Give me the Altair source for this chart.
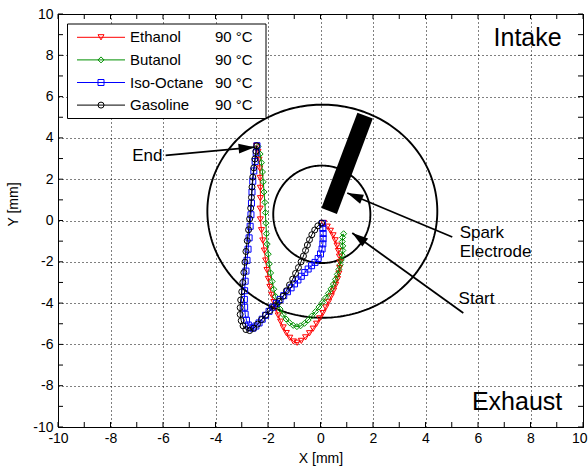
import math
import altair as alt
import numpy as np
import pandas as pd

FONT = "Liberation Sans"
W, H = 525, 413

# ---------------- data ----------------
fuel_names = ["Ethanol", "Butanol", "Iso-Octane", "Gasoline"]
fuel_temps = ["90 °C", "90 °C", "90 °C", "90 °C"]
fuel_colors = ["#ff0000", "#009000", "#0000ff", "#000000"]
fuel_shapes = ["triangle-down", "diamond", "square", "circle"]

ethanol_path = [
    (0.12, -0.12), (0.26, -0.30), (0.38, -0.50), (0.48, -0.72), (0.56, -0.96),
    (0.63, -1.22), (0.68, -1.48), (0.72, -1.75), (0.74, -2.02), (0.73, -2.30),
    (0.70, -2.57), (0.65, -2.84), (0.58, -3.12), (0.50, -3.40), (0.41, -3.67),
    (0.31, -3.94), (0.20, -4.21), (0.09, -4.48), (-0.03, -4.74), (-0.15, -5.00),
    (-0.28, -5.24), (-0.42, -5.46), (-0.57, -5.66), (-0.73, -5.83), (-0.89, -5.92),
    (-1.03, -5.86), (-1.17, -5.68), (-1.30, -5.45), (-1.42, -5.18), (-1.52, -4.90),
    (-1.61, -4.60), (-1.70, -4.28), (-1.78, -3.95), (-1.86, -3.60), (-1.93, -3.22),
    (-1.99, -2.83), (-2.04, -2.40), (-2.09, -1.94), (-2.14, -1.46), (-2.20, -0.97),
    (-2.25, -0.47), (-2.29, 0.05), (-2.30, 0.57), (-2.29, 1.08), (-2.29, 1.58),
    (-2.30, 2.06), (-2.31, 2.52), (-2.34, 2.94), (-2.38, 3.32), (-2.44, 3.62),
]
butanol_path = [
    (0.88, -0.64), (0.84, -0.82), (0.83, -1.02), (0.85, -1.23), (0.85, -1.45),
    (0.83, -1.68), (0.79, -1.91), (0.75, -2.14), (0.70, -2.37), (0.64, -2.61),
    (0.57, -2.85), (0.49, -3.08), (0.40, -3.31), (0.30, -3.53), (0.19, -3.75),
    (0.07, -3.97), (-0.06, -4.19), (-0.19, -4.41), (-0.33, -4.62), (-0.47, -4.82),
    (-0.61, -4.98), (-0.76, -5.10), (-0.90, -5.14), (-1.04, -5.08), (-1.18, -4.95),
    (-1.31, -4.77), (-1.43, -4.55), (-1.54, -4.29), (-1.63, -4.00), (-1.71, -3.68),
    (-1.78, -3.33), (-1.84, -2.95), (-1.90, -2.54), (-1.95, -2.10), (-1.99, -1.63),
    (-2.03, -1.14), (-2.06, -0.64), (-2.08, -0.13), (-2.10, 0.38), (-2.12, 0.88),
    (-2.15, 1.38), (-2.18, 1.87), (-2.21, 2.35), (-2.25, 2.80), (-2.30, 3.22),
    (-2.38, 3.58),
]
iso_octane_path = [
    (0.08, -0.14), (0.09, -0.38), (0.10, -0.63), (0.10, -0.88), (0.09, -1.13),
    (0.06, -1.38), (0.00, -1.62), (-0.09, -1.84), (-0.21, -2.03), (-0.34, -2.19),
    (-0.47, -2.35), (-0.60, -2.52), (-0.73, -2.70), (-0.86, -2.88), (-0.99, -3.07),
    (-1.12, -3.26), (-1.26, -3.45), (-1.40, -3.64), (-1.54, -3.83), (-1.68, -4.01),
    (-1.82, -4.20), (-1.96, -4.40), (-2.09, -4.59), (-2.22, -4.78), (-2.34, -4.96),
    (-2.46, -5.11), (-2.57, -5.21), (-2.67, -5.20), (-2.75, -5.06), (-2.82, -4.83),
    (-2.87, -4.54), (-2.89, -4.20), (-2.90, -3.82), (-2.89, -3.40), (-2.87, -2.94),
    (-2.84, -2.45), (-2.80, -1.93), (-2.76, -1.39), (-2.72, -0.84), (-2.68, -0.28),
    (-2.65, 0.28), (-2.63, 0.84), (-2.61, 1.38), (-2.58, 1.90), (-2.54, 2.40),
    (-2.49, 2.86), (-2.45, 3.28), (-2.42, 3.62),
]
gasoline_path = [
    (0.04, -0.12), (-0.10, -0.26), (-0.22, -0.46), (-0.33, -0.69), (-0.42, -0.93),
    (-0.50, -1.19), (-0.57, -1.45), (-0.65, -1.72), (-0.74, -2.00), (-0.84, -2.28),
    (-0.95, -2.56), (-1.06, -2.84), (-1.18, -3.12), (-1.30, -3.40), (-1.43, -3.67),
    (-1.58, -3.92), (-1.75, -4.14), (-1.92, -4.36), (-2.09, -4.58), (-2.25, -4.80),
    (-2.40, -5.02), (-2.55, -5.22), (-2.70, -5.33), (-2.84, -5.28), (-2.95, -5.10),
    (-3.02, -4.85), (-3.06, -4.55), (-3.06, -4.22), (-3.04, -3.85), (-3.00, -3.45),
    (-2.96, -3.00), (-2.92, -2.52), (-2.88, -2.02), (-2.84, -1.50), (-2.79, -0.98),
    (-2.74, -0.45), (-2.70, 0.08), (-2.66, 0.60), (-2.63, 1.12), (-2.61, 1.62),
    (-2.58, 2.10), (-2.54, 2.55), (-2.50, 2.98), (-2.46, 3.35), (-2.43, 3.62),
]
fuel_paths = [ethanol_path, butanol_path, iso_octane_path, gasoline_path]

# annotation geometry (data units)
ring_center_x = [0.07, 0.05]
ring_center_y = [0.45, 0.30]
ring_radius_x = [4.38, 1.85]
ring_radius_y = [5.16, 2.36]
electrode_x = [0.33, 1.70]
electrode_y = [0.46, 5.08]
arrow_tail_x = [-5.90, 5.02, 5.44]
arrow_tail_y = [3.15, -0.80, -4.48]
arrow_tip_x = [-2.51, 1.02, 1.21]
arrow_tip_y = [3.55, 1.33, -0.61]
note_texts = ["End", "Spark", "Electrode", "Start", "Intake", "Exhaust"]
note_x = [-6.02, 5.30, 5.30, 5.26, 7.89, 7.49]
note_y = [3.10, -0.85, -1.77, -4.03, 8.46, -9.17]

# ---------------- styles ----------------
note_align = ["right", "left", "left", "left", "center", "center"]
note_baseline = ["middle", "alphabetic", "alphabetic", "alphabetic", "alphabetic", "alphabetic"]
note_size = [17, 17, 17, 17, 25, 25]

xscale = alt.Scale(domain=[-10, 10], nice=False, zero=False)
yscale = alt.Scale(domain=[-10, 10], nice=False, zero=False)
common_axis = dict(
    values=list(range(-10, 11, 2)), grid=True, gridDash=[1, 3], gridColor="#000000",
    gridWidth=1, gridOpacity=1, domain=False, ticks=False, tickSize=0,
    labelFont=FONT, labelFontSize=14, labelColor="#000000", labelFlush=False,
    labelOverlap=False, labelExpr="'' + datum.value",
    titleFont=FONT, titleFontSize=14, titleFontWeight="normal", titleColor="#000000",
)
X = alt.X("x:Q", scale=xscale, axis=alt.Axis(
    title="X [mm]", labelPadding=4,
    labelAlign={"condition": {"test": "datum.value == 10", "value": "right"}, "value": "center"},
    labelOffset={"condition": {"test": "datum.value == 10", "value": 4}, "value": 0},
    titleX=W / 2, titleY=31, titleAlign="center", titleBaseline="middle", **common_axis))
Y = alt.Y("y:Q", scale=yscale, axis=alt.Axis(title="Y [mm]", labelPadding=5,
          titleX=-45, titleY=190, titleAngle=270, titleAlign="center",
          titleBaseline="middle", **common_axis))

layers = []

# inward ticks on all four sides
tick_df = pd.DataFrame({"x": list(range(-10, 11)), "y": list(range(-10, 11))})
layers.append(alt.Chart(tick_df).mark_rule(color="black", strokeWidth=1).encode(
    x=X, y=alt.value(H), y2=alt.value(H - 5)))
layers.append(alt.Chart(tick_df).mark_rule(color="black", strokeWidth=1).encode(
    x=X, y=alt.value(0), y2=alt.value(5)))
layers.append(alt.Chart(tick_df).mark_rule(color="black", strokeWidth=1).encode(
    y=Y, x=alt.value(0), x2=alt.value(5)))
layers.append(alt.Chart(tick_df).mark_rule(color="black", strokeWidth=1).encode(
    y=Y, x=alt.value(W), x2=alt.value(W - 5)))

# rings
theta = np.linspace(0, 2 * np.pi, 241)
ring_rows = []
for k in range(len(ring_center_x)):
    for j, t in enumerate(theta):
        ring_rows.append({"ring": k, "j": j,
                          "x": ring_center_x[k] + ring_radius_x[k] * math.cos(t),
                          "y": ring_center_y[k] + ring_radius_y[k] * math.sin(t)})
ring_df = pd.DataFrame(ring_rows)
layers.append(alt.Chart(ring_df).mark_line(color="black", strokeWidth=1.9).encode(
    x=X, y=Y, detail="ring:N", order="j:Q"))

# electrode
el_df = pd.DataFrame({"x": electrode_x, "y": electrode_y, "j": [0, 1]})
layers.append(alt.Chart(el_df).mark_line(color="black", strokeWidth=16.5, strokeCap="butt").encode(
    x=X, y=Y, order="j:Q"))

# fuel series
for name, pts, col, shp in zip(fuel_names, fuel_paths, fuel_colors, fuel_shapes):
    df = pd.DataFrame({"i": range(len(pts)), "x": [p[0] for p in pts], "y": [p[1] for p in pts]})
    layers.append(alt.Chart(df).mark_line(color=col, strokeWidth=1).encode(x=X, y=Y, order="i:Q"))
    layers.append(alt.Chart(df).mark_point(shape=shp, color=col, filled=False, size=36,
                                           strokeWidth=1, opacity=1).encode(x=X, y=Y))

# arrows
arr_df = pd.DataFrame({"x": arrow_tail_x, "y": arrow_tail_y, "x2": arrow_tip_x, "y2": arrow_tip_y})
layers.append(alt.Chart(arr_df).mark_rule(color="black", strokeWidth=1.8).encode(
    x=X, y=Y, x2="x2:Q", y2="y2:Q"))
head_path = "M0,0 L-0.62,2 L0.62,2 Z"
for k in range(len(arrow_tip_x)):
    dx = (arrow_tip_x[k] - arrow_tail_x[k]) * W / 20
    dy = (arrow_tip_y[k] - arrow_tail_y[k]) * H / 20
    ang = math.degrees(math.atan2(dx, dy)) % 360
    hd = pd.DataFrame({"x": [arrow_tip_x[k]], "y": [arrow_tip_y[k]]})
    layers.append(alt.Chart(hd).mark_point(shape=head_path, filled=True, color="black",
                                           size=256, angle=ang, opacity=1).encode(x=X, y=Y))

# annotation texts
for t, tx, ty, al, bl, fs in zip(note_texts, note_x, note_y, note_align, note_baseline, note_size):
    td = pd.DataFrame({"x": [tx], "y": [ty]})
    layers.append(alt.Chart(td).mark_text(text=t, align=al, baseline=bl, font=FONT,
                                          fontSize=fs, color="black").encode(x=X, y=Y))

# legend (manual)
one = pd.DataFrame({"k": [0]})
layers.append(alt.Chart(one).mark_rect(fill="white", stroke="black", strokeWidth=1).encode(
    x=alt.value(9.5), x2=alt.value(208), y=alt.value(10), y2=alt.value(104.5)))
for i, (name, temp, col, shp) in enumerate(zip(fuel_names, fuel_temps, fuel_colors, fuel_shapes)):
    ry = 23.3 + 22.6 * i
    layers.append(alt.Chart(one).mark_rule(color=col, strokeWidth=1).encode(
        x=alt.value(19), x2=alt.value(67), y=alt.value(ry)))
    layers.append(alt.Chart(one).mark_point(shape=shp, color=col, filled=False, size=36,
                                            strokeWidth=1, opacity=1).encode(
        x=alt.value(43), y=alt.value(ry)))
    layers.append(alt.Chart(one).mark_text(text=name, align="left", baseline="middle", font=FONT,
                                           fontSize=15, color="black").encode(
        x=alt.value(72), y=alt.value(ry)))
    layers.append(alt.Chart(one).mark_text(text=temp, align="left", baseline="middle", font=FONT,
                                           fontSize=15, color="black").encode(
        x=alt.value(157), y=alt.value(ry)))

chart = alt.layer(*layers).properties(
    width=W, height=H,
    autosize=alt.AutoSizeParams(type="none"),
    padding={"left": 58, "top": 14, "right": 5, "bottom": 44},
).configure_view(stroke="black", strokeWidth=1)

chart.save("out.html", embed_options={"renderer": "svg", "actions": False})
